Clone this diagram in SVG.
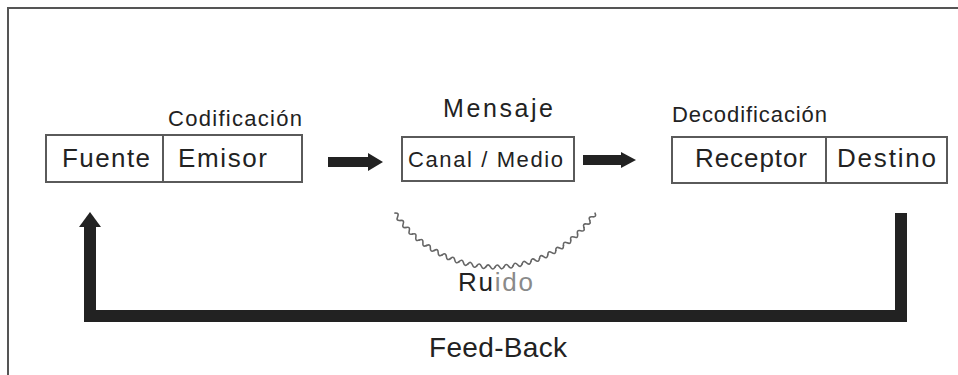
<svg xmlns="http://www.w3.org/2000/svg" xmlns:xlink="http://www.w3.org/1999/xlink" width="958" height="375" viewBox="0 0 958 375">
  <style>
    .frame { fill: none; stroke: #555; stroke-width: 2; }
    .box { fill: #fff; stroke: #5a5a5a; stroke-width: 2; }
    .div { stroke: #5a5a5a; stroke-width: 2; }
    .lbl { font-family: "Liberation Sans", Arial, Helvetica, sans-serif; fill: #222; }
    .flow { fill: none; stroke: #222; stroke-width: 12; stroke-linejoin: miter; }
    .head { fill: #222; }
    .noise { fill: none; stroke: #666; stroke-width: 1.6; stroke-linecap: round; }
  </style>
  <defs>
    <!-- one period of the noise ripple, centred on the lowest point of the arc -->
    <path id="ripple" class="noise" d="M490.45,267 q2.275,-4 4.55,0 t4.55,0"/>
  </defs>

  <rect x="0" y="0" width="958" height="375" fill="#fff"/>
  <path class="frame" d="M8,375 V8 H958"/>

  <g id="fuente-emisor">
    <rect class="box" x="46" y="135" width="256" height="47"/>
    <line class="div" x1="163" y1="135" x2="163" y2="182"/>
    <text class="lbl" x="62" y="167" font-size="26" textLength="88" lengthAdjust="spacing">Fuente</text>
    <text class="lbl" x="178" y="167" font-size="26" textLength="89" lengthAdjust="spacing">Emisor</text>
    <text class="lbl" x="168" y="126" font-size="22" textLength="134" lengthAdjust="spacing">Codificación</text>
  </g>

  <g id="canal">
    <rect class="box" x="402" y="137" width="172" height="44"/>
    <text class="lbl" x="408" y="167" font-size="22" textLength="155" lengthAdjust="spacing">Canal / Medio</text>
    <text class="lbl" x="443" y="117" font-size="25" textLength="110" lengthAdjust="spacing">Mensaje</text>
  </g>

  <g id="receptor-destino">
    <rect class="box" x="672" y="137" width="275" height="46"/>
    <line class="div" x1="826" y1="137" x2="826" y2="183"/>
    <text class="lbl" x="695" y="167" font-size="26" textLength="112" lengthAdjust="spacing">Receptor</text>
    <text class="lbl" x="837" y="167" font-size="26" textLength="99" lengthAdjust="spacing">Destino</text>
    <text class="lbl" x="672" y="122" font-size="22" textLength="155" lengthAdjust="spacing">Decodificación</text>
  </g>

  <g id="ruido">
    <g id="noise-arc">
      <use xlink:href="#ripple" transform="rotate(54.52 495 147.4)"/>
      <use xlink:href="#ripple" transform="rotate(50.16 495 147.4)"/>
      <use xlink:href="#ripple" transform="rotate(45.80 495 147.4)"/>
      <use xlink:href="#ripple" transform="rotate(41.43 495 147.4)"/>
      <use xlink:href="#ripple" transform="rotate(37.07 495 147.4)"/>
      <use xlink:href="#ripple" transform="rotate(32.71 495 147.4)"/>
      <use xlink:href="#ripple" transform="rotate(28.35 495 147.4)"/>
      <use xlink:href="#ripple" transform="rotate(23.99 495 147.4)"/>
      <use xlink:href="#ripple" transform="rotate(19.63 495 147.4)"/>
      <use xlink:href="#ripple" transform="rotate(15.27 495 147.4)"/>
      <use xlink:href="#ripple" transform="rotate(10.90 495 147.4)"/>
      <use xlink:href="#ripple" transform="rotate(6.54 495 147.4)"/>
      <use xlink:href="#ripple" transform="rotate(2.18 495 147.4)"/>
      <use xlink:href="#ripple" transform="rotate(-2.18 495 147.4)"/>
      <use xlink:href="#ripple" transform="rotate(-6.54 495 147.4)"/>
      <use xlink:href="#ripple" transform="rotate(-10.90 495 147.4)"/>
      <use xlink:href="#ripple" transform="rotate(-15.27 495 147.4)"/>
      <use xlink:href="#ripple" transform="rotate(-19.63 495 147.4)"/>
      <use xlink:href="#ripple" transform="rotate(-23.99 495 147.4)"/>
      <use xlink:href="#ripple" transform="rotate(-28.35 495 147.4)"/>
      <use xlink:href="#ripple" transform="rotate(-32.71 495 147.4)"/>
      <use xlink:href="#ripple" transform="rotate(-37.07 495 147.4)"/>
      <use xlink:href="#ripple" transform="rotate(-41.43 495 147.4)"/>
      <use xlink:href="#ripple" transform="rotate(-45.80 495 147.4)"/>
      <use xlink:href="#ripple" transform="rotate(-50.16 495 147.4)"/>
      <use xlink:href="#ripple" transform="rotate(-54.52 495 147.4)"/>
    </g>
    <text class="lbl" x="458" y="291" font-size="26" textLength="75" lengthAdjust="spacing">Ru<tspan fill="#8a8a8a">ido</tspan></text>
  </g>

  <g id="connectors">
    <!-- emisor -> canal -->
    <polygon class="head" points="328,157 368,157 368,153 383,162 368,171 368,167 328,167"/>
    <!-- canal -> receptor -->
    <polygon class="head" points="583,155 621,155 621,152 636,160 621,168 621,165 583,165"/>
    <!-- feed-back loop -->
    <path class="flow" d="M901,213 V316 H90 V224"/>
    <polygon class="head" points="90,212 101,227 79,227"/>
    <text class="lbl" x="429" y="357" font-size="28" textLength="138" lengthAdjust="spacing">Feed-Back</text>
  </g>
</svg>
